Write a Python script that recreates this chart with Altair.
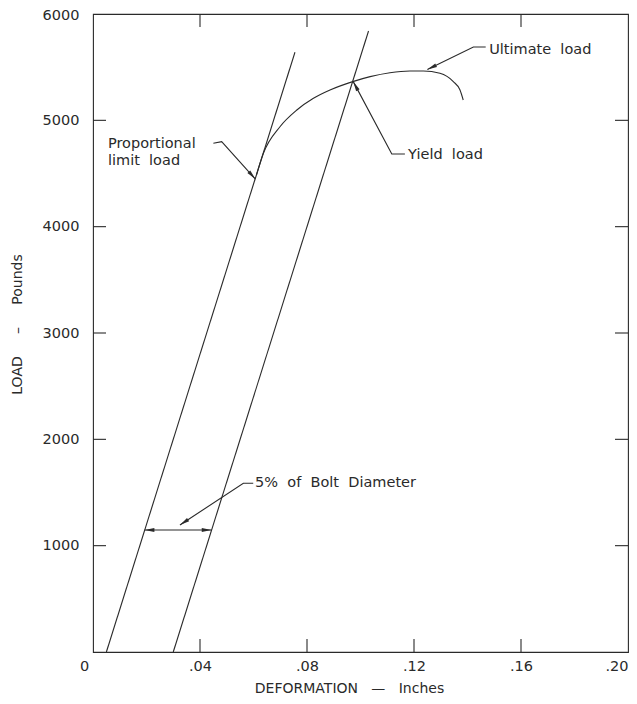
import math
import altair as alt
import pandas as pd

# ---------------- data ----------------
# straight lines (slope ~80,000 lb/in), second one offset by 5% of bolt diameter
prop_line_x = [0.005, 0.0755]
prop_line_y = [0, 5640]
offset_line_x = [0.030, 0.1030]
offset_line_y = [0, 5840]

# load-deformation curve beyond proportional limit
curve_x = [0.0611, 0.0637, 0.0699, 0.0762, 0.0824, 0.0886, 0.0971, 0.1036,
           0.1110, 0.1185, 0.1235, 0.1297, 0.1347, 0.1372, 0.1384]
curve_y = [4486, 4690, 4940, 5097, 5207, 5285, 5364, 5411,
           5448, 5464, 5464, 5442, 5364, 5285, 5191]

# dimension line "5% of bolt diameter"
dim_x = [0.0193, 0.0443]
dim_y = [1147, 1147]

# leader lines (polyline per annotation; last point = arrow tip)
leader_ids = ["prop", "prop", "prop", "ult", "ult", "ult",
              "yield", "yield", "yield", "bolt", "bolt", "bolt"]
leader_x = [0.0450, 0.0481, 0.0607, 0.1468, 0.1422, 0.1250,
            0.1166, 0.1117, 0.0973, 0.0599, 0.0562, 0.0325]
leader_y = [4784, 4799, 4448, 5690, 5690, 5478,
            4684, 4684, 5364, 1587, 1587, 1194]

# annotation texts
note_labels = ["Proportional", "limit\u00a0\u00a0load", "Ultimate\u00a0\u00a0load",
               "Yield\u00a0\u00a0load", "5%\u00a0\u00a0of\u00a0\u00a0Bolt\u00a0\u00a0Diameter"]
note_x = [0.0056, 0.0056, 0.1481, 0.1178, 0.0606]
note_y = [4782, 4622, 5664, 4676, 1591]

# axes
x_ticks = [0, 0.04, 0.08, 0.12, 0.16, 0.20]
x_tick_labels = ["0", ".04", ".08", ".12", ".16", ".20"]
y_ticks = [1000, 2000, 3000, 4000, 5000, 6000]
y_tick_labels = ["1000", "2000", "3000", "4000", "5000", "6000"]
inner_x_ticks = [0.04, 0.08, 0.12, 0.16]
inner_y_ticks = [1000, 2000, 3000, 4000, 5000]

x_title = "DEFORMATION\u00a0\u00a0\u00a0\u2014\u00a0\u00a0\u00a0Inches"
y_title = "LOAD\u00a0\u00a0\u00a0\u00a0\u00a0\u2013\u00a0\u00a0\u00a0\u00a0\u00a0Pounds"

# ---------------- layout / style ----------------
W, H = 535, 638
X_MAX, Y_MAX = 0.20, 6000
INK = "#2a2a2a"
FONT = "DejaVu Sans"


def label_expr(vals, labs):
    parts = [f"abs(datum.value - {v}) < 1e-9 ? '{l}'" for v, l in zip(vals, labs)]
    return " : ".join(parts) + " : ''"


xs = alt.Scale(domain=[0, X_MAX], nice=False, zero=False)
ys = alt.Scale(domain=[0, Y_MAX], nice=False, zero=False)

x_axis = alt.Axis(
    values=x_ticks, labelExpr=label_expr(x_ticks, x_tick_labels),
    ticks=False, tickSize=0, domain=False, grid=False,
    labelFont=FONT, labelFontSize=14.5, labelColor=INK, labelPadding=7,
    labelFlush=False, labelOverlap=False,
    labelOffset={"condition": {"test": "datum.value == 0", "value": -9}, "value": 0},
    labelAlign={"condition": {"test": "datum.value > 0.1999", "value": "right"}, "value": "center"},
    title=x_title, titleFont=FONT, titleFontSize=14, titleFontWeight="normal",
    titleColor=INK, titleX=256, titleY=36, titleBaseline="middle", titleAlign="center",
)
y_axis = alt.Axis(
    values=y_ticks, labelExpr=label_expr(y_ticks, y_tick_labels),
    ticks=False, tickSize=0, domain=False, grid=False,
    labelFont=FONT, labelFontSize=14.5, labelColor=INK, labelPadding=14,
    labelFlush=False, labelOverlap=False,
    labelOffset={"condition": {"test": "datum.value > 5999", "value": 1}, "value": 0},
    title=y_title, titleFont=FONT, titleFontSize=14, titleFontWeight="normal",
    titleColor=INK, titleX=-76, titleY=310, titleAngle=270,
    titleBaseline="middle", titleAlign="center",
)


def X(field):
    return alt.X(field, type="quantitative", scale=xs, axis=x_axis)


def Y(field):
    return alt.Y(field, type="quantitative", scale=ys, axis=y_axis)


# ---------------- tables ----------------
lines_df = pd.DataFrame({
    "x": prop_line_x + offset_line_x,
    "y": prop_line_y + offset_line_y,
    "s": ["prop"] * len(prop_line_x) + ["offset"] * len(offset_line_x),
})
curve_df = pd.DataFrame({"x": curve_x, "y": curve_y})
dim_df = pd.DataFrame({"x": dim_x, "y": dim_y})
leader_df = pd.DataFrame({"id": leader_ids, "x": leader_x, "y": leader_y,
                          "seq": list(range(len(leader_ids)))})
notes_df = pd.DataFrame({"label": note_labels, "x": note_x, "y": note_y})

# arrow heads: tip at last point of each leader, direction from previous point
px_x, px_y = W / X_MAX, H / Y_MAX
heads = []
for lid in dict.fromkeys(leader_ids):
    pts = [(x, y) for i, x, y in zip(leader_ids, leader_x, leader_y) if i == lid]
    (x0, y0), (x1, y1) = pts[-2], pts[-1]
    ang = math.degrees(math.atan2((x1 - x0) * px_x, (y1 - y0) * px_y)) % 360
    heads.append({"x": x1, "y": y1, "angle": ang})
# dimension arrows point outward to both lines
heads.append({"x": dim_x[0], "y": dim_y[0], "angle": 270})
heads.append({"x": dim_x[1], "y": dim_y[1], "angle": 90})
heads_df = pd.DataFrame(heads)

xt_df = pd.DataFrame({"v": inner_x_ticks})
yt_df = pd.DataFrame({"v": inner_y_ticks})

# ---------------- layers ----------------
straight = alt.Chart(lines_df).mark_line(color=INK, strokeWidth=1.1).encode(
    x=X("x"), y=Y("y"), detail="s:N")
curve = alt.Chart(curve_df).mark_line(color=INK, strokeWidth=1.1, interpolate="monotone").encode(
    x=X("x"), y=Y("y"), order="x:Q")
dim = alt.Chart(dim_df).mark_line(color=INK, strokeWidth=1.1).encode(x=X("x"), y=Y("y"))
leaders = alt.Chart(leader_df).mark_line(color=INK, strokeWidth=1.1).encode(
    x=X("x"), y=Y("y"), detail="id:N", order="seq:Q")
arrowheads = alt.Chart(heads_df).mark_point(
    shape="M0,0L0.2,1L-0.2,1Z", filled=True, size=380, color=INK, opacity=1, strokeWidth=0
).encode(x=X("x"), y=Y("y"), angle=alt.Angle("angle:Q", scale=None))
notes = alt.Chart(notes_df).mark_text(
    align="left", baseline="middle", font=FONT, fontSize=14.5, color=INK
).encode(x=X("x"), y=Y("y"), text="label:N")

tick_len = 13
bottom_ticks = alt.Chart(xt_df).mark_rule(color=INK, strokeWidth=1.1).encode(
    x=X("v"), y=alt.value(H), y2=alt.value(H - tick_len))
top_ticks = alt.Chart(xt_df).mark_rule(color=INK, strokeWidth=1.1).encode(
    x=X("v"), y=alt.value(0), y2=alt.value(tick_len))
left_ticks = alt.Chart(yt_df).mark_rule(color=INK, strokeWidth=1.1).encode(
    y=Y("v"), x=alt.value(0), x2=alt.value(tick_len))
right_ticks = alt.Chart(yt_df).mark_rule(color=INK, strokeWidth=1.1).encode(
    y=Y("v"), x=alt.value(W), x2=alt.value(W - tick_len))

chart = alt.layer(
    straight, curve, dim, leaders, arrowheads, notes,
    bottom_ticks, top_ticks, left_ticks, right_ticks,
).properties(
    width=W, height=H,
    autosize=alt.AutoSizeParams(type="none"),
    padding={"left": 85, "top": 6, "right": 1, "bottom": 44},
    background="white",
).configure_view(
    stroke=INK, strokeWidth=1.1
)

chart.save("out.html", embed_options={"renderer": "svg", "actions": False})
